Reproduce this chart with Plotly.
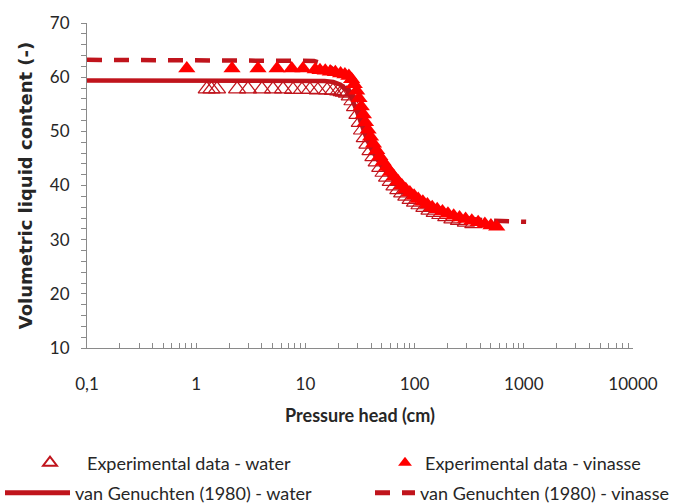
import plotly.graph_objects as go

# ---------------- data ----------------
water_h = [1.25, 1.38, 1.55, 2.37, 2.98, 4.0, 5.05, 6.24, 7.7, 9.3, 11.0, 13.0, 15.8, 17.9, 20.0, 21.5,
           22.5, 24, 25.5, 27, 28.5, 30, 31.5, 33, 35, 37, 39.5, 42, 45, 48.5, 52, 56, 60.5, 65.5,
           71, 77, 84, 92, 101, 111, 123, 137, 153, 172, 195, 222, 255, 295, 345]
water_theta = [57.8, 57.8, 57.8, 57.8, 57.8, 57.8, 57.8, 57.8, 57.7, 57.7, 57.7, 57.6, 57.6, 57.5, 57.4, 57.3,
               57.2, 57.0, 56.5, 55.6, 54.5, 53.1, 51.6, 50.2, 48.8, 47.6, 46.4, 45.3, 44.3, 43.3, 42.4, 41.5, 40.7, 39.9,
               39.2, 38.6, 38.0, 37.4, 36.9, 36.4, 35.9, 35.4, 35.0, 34.6, 34.2, 33.8, 33.5, 33.2, 32.9]

vinasse_h = [0.82, 2.13, 3.68, 5.5, 7.5, 9.5, 12.3, 13.6, 15.2, 16.9, 18.8, 21.0, 23.0,
             25, 26.5, 28, 29.5, 31, 32.5, 34, 35.5, 37.5, 39.5, 42, 45, 48, 51.5, 55.5, 60, 65,
             70.5, 76.5, 83, 90.5, 99, 108, 119, 131, 145, 161, 180, 202, 228, 258, 293, 334, 382,
             440, 500, 565]
vinasse_theta = [61.6, 61.6, 61.6, 61.6, 61.6, 61.6, 61.4, 61.3, 61.2, 61.0, 60.9, 60.7, 60.5,
                 60.2, 59.6, 58.7, 57.5, 56.1, 54.6, 53.1, 51.7, 50.3, 49.0, 47.7, 46.5, 45.4, 44.4, 43.4, 42.5, 41.6,
                 40.8, 40.0, 39.3, 38.7, 38.1, 37.5, 37.0, 36.5, 36.0, 35.6, 35.2, 34.8, 34.4, 34.1, 33.8, 33.5, 33.2,
                 32.9, 32.6, 32.4]

vg_water_h = [0.1, 10, 15, 18, 21, 24, 27, 30, 33, 36, 40, 45, 50, 60, 70, 85, 100, 130, 170, 230, 320, 450]
vg_water_theta = [59.4, 59.4, 59.3, 59.1, 58.6, 57.6, 55.8, 53.4, 51.0, 48.9, 46.8, 44.9, 43.5, 41.6, 40.2,
                  38.7, 37.7, 36.3, 35.2, 34.3, 33.6, 33.1]

vg_vinasse_h = [0.1, 10, 12, 14, 17, 20, 23, 26, 29, 32, 36, 40, 46, 53, 62, 75, 90, 110, 140, 180, 240,
                330, 480, 700, 1050]
vg_vinasse_theta = [63.2, 63.2, 63.0, 62.6, 61.8, 60.6, 59.0, 57.0, 54.7, 52.4, 49.8, 47.7, 45.5, 43.6, 41.8,
                    40.0, 38.6, 37.3, 36.1, 35.2, 34.4, 33.8, 33.5, 33.4, 33.3]

x_tickvals = [0.1, 1, 10, 100, 1000, 10000]
x_ticktext = ["0,1", "1", "10", "100", "1000", "10000"]
y_tickvals = [10, 20, 30, 40, 50, 60, 70]

names = ["Experimental data - water", "Experimental data - vinasse",
         "van Genuchten (1980) - water", "van Genuchten (1980) - vinasse"]

# ---------------- styles ----------------
DARK = "#c0141c"
RED = "#ff0000"
AXIS = "#8a8a8a"
FONT = "Lato, sans-serif"
TXT = "#262626"

fig = go.Figure()
fig.add_trace(go.Scatter(
    x=vg_water_h, y=vg_water_theta, mode="lines", name=names[2], legend="legend3",
    line=dict(color=DARK, width=4.5)))
fig.add_trace(go.Scatter(
    x=vg_vinasse_h, y=vg_vinasse_theta, mode="lines", name=names[3], legend="legend4",
    line=dict(color=DARK, width=4.5, dash="15px,12px")))
fig.add_trace(go.Scatter(
    x=water_h, y=water_theta, mode="markers", name=names[0], legend="legend",
    marker=dict(symbol="triangle-up-open", size=15, color=DARK, line=dict(width=1.2, color=DARK))))
fig.add_trace(go.Scatter(
    x=vinasse_h, y=vinasse_theta, mode="markers", name=names[1], legend="legend2",
    marker=dict(symbol="triangle-up", size=15, color=RED, line=dict(width=0))))


def leg(x_px, y_px, itemwidth):
    return dict(
        orientation="h", xref="container", yref="container",
        x=x_px / 675, y=1 - y_px / 504, xanchor="left", yanchor="middle",
        itemwidth=itemwidth, itemsizing="constant",
        font=dict(size=18, family=FONT, color=TXT),
        bgcolor="rgba(0,0,0,0)", borderwidth=0,
    )


fig.update_layout(
    width=675, height=504,
    margin=dict(l=87, r=42, t=15, b=156),
    paper_bgcolor="white", plot_bgcolor="white",
    font=dict(family=FONT, color=TXT),
    xaxis=dict(
        type="log", range=[-1, 4], showgrid=False, zeroline=False,
        showline=True, linecolor=AXIS, linewidth=1.2,
        tickvals=x_tickvals, ticktext=x_ticktext,
        ticks="inside", ticklen=5, tickcolor=AXIS,
        minor=dict(ticks="inside", ticklen=5, tickcolor=AXIS, dtick="D1", showgrid=False),
        tickfont=dict(size=17, family=FONT, color=TXT),
        ticklabelstandoff=20,
        title=dict(text="<b>Pressure head (cm)</b>", font=dict(size=18, family=FONT), standoff=16),
    ),
    yaxis=dict(
        range=[10, 70], showgrid=False, zeroline=False,
        showline=True, linecolor=AXIS, linewidth=1.2,
        tickvals=y_tickvals, ticks="outside", ticklen=5, tickcolor=AXIS,
        minor=dict(ticks="outside", ticklen=5, tickcolor=AXIS, dtick=2, showgrid=False),
        tickfont=dict(size=17, family=FONT, color=TXT),
        ticklabelstandoff=8,
        title=dict(text="<b>Volumetric liquid content (-)</b>",
                   font=dict(size=18, family="DejaVu Sans, sans-serif"), standoff=12),
    ),
    legend=leg(13, 463, 64),
    legend2=leg(385, 463, 30),
    legend3=leg(0, 493, 65),
    legend4=leg(370, 493, 40),
    showlegend=True,
)

fig.write_html("out.html")
